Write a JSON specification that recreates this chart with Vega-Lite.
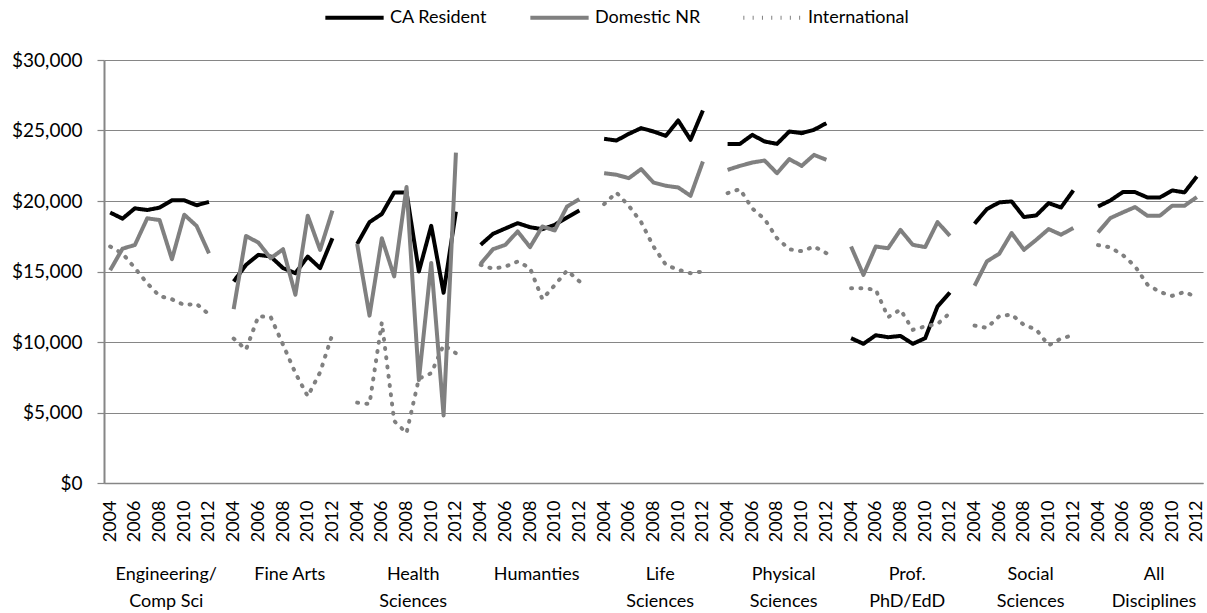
{
  "$schema": "https://vega.github.io/schema/vega-lite/v6.json",
  "width": 1099,
  "height": 423,
  "autosize": {"type": "none"},
  "padding": {"left": 104, "top": 60, "right": 4, "bottom": 130},
  "background": "white",
  "config": {
    "view": {"stroke": null},
    "font": "Lato",
    "axis": {"labelColor": "#000000", "titleColor": "#000000"},
    "legend": {"labelColor": "#000000"}
  },
  "data": {
    "values": [
      {"group": "Engineering/Comp Sci", "year": 2004, "CA Resident": 19180, "Domestic NR": 15090, "International": 16770},
      {"group": "Engineering/Comp Sci", "year": 2005, "CA Resident": 18750, "Domestic NR": 16620, "International": 16270},
      {"group": "Engineering/Comp Sci", "year": 2006, "CA Resident": 19480, "Domestic NR": 16880, "International": 15250},
      {"group": "Engineering/Comp Sci", "year": 2007, "CA Resident": 19360, "Domestic NR": 18770, "International": 14160},
      {"group": "Engineering/Comp Sci", "year": 2008, "CA Resident": 19530, "Domestic NR": 18650, "International": 13260},
      {"group": "Engineering/Comp Sci", "year": 2009, "CA Resident": 20050, "Domestic NR": 15870, "International": 13030},
      {"group": "Engineering/Comp Sci", "year": 2010, "CA Resident": 20050, "Domestic NR": 19030, "International": 12620},
      {"group": "Engineering/Comp Sci", "year": 2011, "CA Resident": 19700, "Domestic NR": 18230, "International": 12700},
      {"group": "Engineering/Comp Sci", "year": 2012, "CA Resident": 19930, "Domestic NR": 16290, "International": 11960},
      {"group": "Fine Arts", "year": 2004, "CA Resident": 14290, "Domestic NR": 12330, "International": 10240},
      {"group": "Fine Arts", "year": 2005, "CA Resident": 15470, "Domestic NR": 17520, "International": 9460},
      {"group": "Fine Arts", "year": 2006, "CA Resident": 16180, "Domestic NR": 17050, "International": 11820},
      {"group": "Fine Arts", "year": 2007, "CA Resident": 16060, "Domestic NR": 15940, "International": 11770},
      {"group": "Fine Arts", "year": 2008, "CA Resident": 15240, "Domestic NR": 16580, "International": 9810},
      {"group": "Fine Arts", "year": 2009, "CA Resident": 14880, "Domestic NR": 13350, "International": 7800},
      {"group": "Fine Arts", "year": 2010, "CA Resident": 16060, "Domestic NR": 18960, "International": 6150},
      {"group": "Fine Arts", "year": 2011, "CA Resident": 15240, "Domestic NR": 16530, "International": 7850},
      {"group": "Fine Arts", "year": 2012, "CA Resident": 17360, "Domestic NR": 19320, "International": 10570},
      {"group": "Health Sciences", "year": 2004, "CA Resident": 16950, "Domestic NR": 16950, "International": 5700},
      {"group": "Health Sciences", "year": 2005, "CA Resident": 18500, "Domestic NR": 11870, "International": 5600},
      {"group": "Health Sciences", "year": 2006, "CA Resident": 19080, "Domestic NR": 17360, "International": 11390},
      {"group": "Health Sciences", "year": 2007, "CA Resident": 20610, "Domestic NR": 14650, "International": 4400},
      {"group": "Health Sciences", "year": 2008, "CA Resident": 20610, "Domestic NR": 21000, "International": 3540},
      {"group": "Health Sciences", "year": 2009, "CA Resident": 15000, "Domestic NR": 7300, "International": 7400},
      {"group": "Health Sciences", "year": 2010, "CA Resident": 18240, "Domestic NR": 15610, "International": 7790},
      {"group": "Health Sciences", "year": 2011, "CA Resident": 13490, "Domestic NR": 4790, "International": 9790},
      {"group": "Health Sciences", "year": 2012, "CA Resident": 19250, "Domestic NR": 23430, "International": 9200},
      {"group": "Humanties", "year": 2004, "CA Resident": 16890, "Domestic NR": 15540, "International": 15470},
      {"group": "Humanties", "year": 2005, "CA Resident": 17670, "Domestic NR": 16580, "International": 15190},
      {"group": "Humanties", "year": 2006, "CA Resident": 18050, "Domestic NR": 16890, "International": 15350},
      {"group": "Humanties", "year": 2007, "CA Resident": 18430, "Domestic NR": 17840, "International": 15710},
      {"group": "Humanties", "year": 2008, "CA Resident": 18140, "Domestic NR": 16730, "International": 15240},
      {"group": "Humanties", "year": 2009, "CA Resident": 18000, "Domestic NR": 18190, "International": 13040},
      {"group": "Humanties", "year": 2010, "CA Resident": 18310, "Domestic NR": 17910, "International": 14030},
      {"group": "Humanties", "year": 2011, "CA Resident": 18830, "Domestic NR": 19610, "International": 15070},
      {"group": "Humanties", "year": 2012, "CA Resident": 19330, "Domestic NR": 20130, "International": 14300},
      {"group": "Life Sciences", "year": 2004, "CA Resident": 24410, "Domestic NR": 21970, "International": 19780},
      {"group": "Life Sciences", "year": 2005, "CA Resident": 24290, "Domestic NR": 21860, "International": 20600},
      {"group": "Life Sciences", "year": 2006, "CA Resident": 24760, "Domestic NR": 21620, "International": 19660},
      {"group": "Life Sciences", "year": 2007, "CA Resident": 25170, "Domestic NR": 22260, "International": 18500},
      {"group": "Life Sciences", "year": 2008, "CA Resident": 24930, "Domestic NR": 21310, "International": 16770},
      {"group": "Life Sciences", "year": 2009, "CA Resident": 24620, "Domestic NR": 21080, "International": 15470},
      {"group": "Life Sciences", "year": 2010, "CA Resident": 25710, "Domestic NR": 20960, "International": 15120},
      {"group": "Life Sciences", "year": 2011, "CA Resident": 24340, "Domestic NR": 20370, "International": 14880},
      {"group": "Life Sciences", "year": 2012, "CA Resident": 26420, "Domestic NR": 22800, "International": 15000},
      {"group": "Physical Sciences", "year": 2004, "CA Resident": 24050, "Domestic NR": 22210, "International": 20560},
      {"group": "Physical Sciences", "year": 2005, "CA Resident": 24050, "Domestic NR": 22490, "International": 20840},
      {"group": "Physical Sciences", "year": 2006, "CA Resident": 24690, "Domestic NR": 22730, "International": 19470},
      {"group": "Physical Sciences", "year": 2007, "CA Resident": 24220, "Domestic NR": 22870, "International": 18710},
      {"group": "Physical Sciences", "year": 2008, "CA Resident": 24050, "Domestic NR": 21970, "International": 17360},
      {"group": "Physical Sciences", "year": 2009, "CA Resident": 24930, "Domestic NR": 22970, "International": 16580},
      {"group": "Physical Sciences", "year": 2010, "CA Resident": 24810, "Domestic NR": 22490, "International": 16440},
      {"group": "Physical Sciences", "year": 2011, "CA Resident": 25050, "Domestic NR": 23270, "International": 16770},
      {"group": "Physical Sciences", "year": 2012, "CA Resident": 25520, "Domestic NR": 22920, "International": 16300},
      {"group": "Prof. PhD/EdD", "year": 2004, "CA Resident": 10270, "Domestic NR": 16770, "International": 13820},
      {"group": "Prof. PhD/EdD", "year": 2005, "CA Resident": 9870, "Domestic NR": 14760, "International": 13820},
      {"group": "Prof. PhD/EdD", "year": 2006, "CA Resident": 10480, "Domestic NR": 16770, "International": 13700},
      {"group": "Prof. PhD/EdD", "year": 2007, "CA Resident": 10340, "Domestic NR": 16650, "International": 11760},
      {"group": "Prof. PhD/EdD", "year": 2008, "CA Resident": 10430, "Domestic NR": 17950, "International": 12300},
      {"group": "Prof. PhD/EdD", "year": 2009, "CA Resident": 9870, "Domestic NR": 16890, "International": 10860},
      {"group": "Prof. PhD/EdD", "year": 2010, "CA Resident": 10270, "Domestic NR": 16730, "International": 11110},
      {"group": "Prof. PhD/EdD", "year": 2011, "CA Resident": 12520, "Domestic NR": 18500, "International": 11280},
      {"group": "Prof. PhD/EdD", "year": 2012, "CA Resident": 13510, "Domestic NR": 17530, "International": 12050},
      {"group": "Social Sciences", "year": 2004, "CA Resident": 18390, "Domestic NR": 13990, "International": 11160},
      {"group": "Social Sciences", "year": 2005, "CA Resident": 19430, "Domestic NR": 15720, "International": 11000},
      {"group": "Social Sciences", "year": 2006, "CA Resident": 19900, "Domestic NR": 16260, "International": 11830},
      {"group": "Social Sciences", "year": 2007, "CA Resident": 19970, "Domestic NR": 17730, "International": 11950},
      {"group": "Social Sciences", "year": 2008, "CA Resident": 18860, "Domestic NR": 16540, "International": 11210},
      {"group": "Social Sciences", "year": 2009, "CA Resident": 18980, "Domestic NR": 17250, "International": 10880},
      {"group": "Social Sciences", "year": 2010, "CA Resident": 19850, "Domestic NR": 18010, "International": 9770},
      {"group": "Social Sciences", "year": 2011, "CA Resident": 19540, "Domestic NR": 17610, "International": 10240},
      {"group": "Social Sciences", "year": 2012, "CA Resident": 20750, "Domestic NR": 18080, "International": 10500},
      {"group": "All Disciplines", "year": 2004, "CA Resident": 19610, "Domestic NR": 17770, "International": 16870},
      {"group": "All Disciplines", "year": 2005, "CA Resident": 20040, "Domestic NR": 18790, "International": 16710},
      {"group": "All Disciplines", "year": 2006, "CA Resident": 20630, "Domestic NR": 19190, "International": 16170},
      {"group": "All Disciplines", "year": 2007, "CA Resident": 20630, "Domestic NR": 19570, "International": 15370},
      {"group": "All Disciplines", "year": 2008, "CA Resident": 20250, "Domestic NR": 18950, "International": 14070},
      {"group": "All Disciplines", "year": 2009, "CA Resident": 20250, "Domestic NR": 18950, "International": 13550},
      {"group": "All Disciplines", "year": 2010, "CA Resident": 20750, "Domestic NR": 19660, "International": 13270},
      {"group": "All Disciplines", "year": 2011, "CA Resident": 20610, "Domestic NR": 19660, "International": 13550},
      {"group": "All Disciplines", "year": 2012, "CA Resident": 21740, "Domestic NR": 20280, "International": 13170}
    ]
  },
  "transform": [
    {"fold": ["CA Resident", "Domestic NR", "International"], "as": ["series", "value"]},
    {"calculate": "indexof(['Engineering/Comp Sci','Fine Arts','Health Sciences','Humanties','Life Sciences','Physical Sciences','Prof. PhD/EdD','Social Sciences','All Disciplines'], datum.group) * 10 + datum.year - 2004", "as": "pos"}
  ],
  "layer": [
    {
      "transform": [{"filter": "datum.series !== 'International'"}],
      "mark": {"type": "line", "strokeJoin": "round"},
      "encoding": {
        "x": {
          "field": "pos", "type": "quantitative",
          "scale": {"domain": [-0.5, 88.5], "nice": false, "zero": false},
          "axis": {
            "orient": "bottom",
            "values": [0,2,4,6,8,10,12,14,16,18,20,22,24,26,28,30,32,34,36,38,40,42,44,46,48,50,52,54,56,58,60,62,64,66,68,70,72,74,76,78,80,82,84,86,88],
            "labelExpr": "'' + (2004 + datum.value % 10)",
            "labelAngle": 270,
            "labelFontSize": 18,
            "labelPadding": 17,
            "ticks": false,
            "tickSize": 0,
            "domain": true,
            "domainColor": "#868686",
            "domainWidth": 1.5,
            "grid": false,
            "title": null,
            "labelOverlap": false,
            "labelFlush": false,
            "labelBound": false
          }
        },
        "y": {
          "field": "value", "type": "quantitative",
          "scale": {"domain": [0, 30000], "nice": false},
          "axis": {
            "values": [0, 5000, 10000, 15000, 20000, 25000, 30000],
            "format": "$,.0f",
            "title": null,
            "grid": true,
            "gridColor": "#868686",
            "gridWidth": 1.2,
            "domainColor": "#868686",
            "domainWidth": 2,
            "tickColor": "#868686",
            "tickSize": 7,
            "tickWidth": 1.2,
            "labelPadding": 15,
            "labelFontSize": 19
          }
        },
        "color": {
          "field": "series", "type": "nominal",
          "scale": {"domain": ["CA Resident", "Domestic NR", "International"], "range": ["#000000", "#808080", "#808080"]},
          "legend": {
            "orient": "none",
            "legendX": 219,
            "legendY": -74,
            "direction": "horizontal",
            "title": null,
            "symbolType": "stroke",
            "symbolSize": 3400,
            "labelFontSize": 18,
            "labelOffset": 4,
            "columnPadding": 34
          }
        },
        "strokeDash": {
          "field": "series", "type": "nominal",
          "scale": {"domain": ["CA Resident", "Domestic NR", "International"], "range": [[1, 0], [1, 0], [1, 8.3]]}
        },
        "strokeWidth": {
          "field": "series", "type": "nominal",
          "scale": {"domain": ["CA Resident", "Domestic NR", "International"], "range": [4, 4, 3.3]}
        },
        "detail": {"field": "group"}
      }
    },
    {
      "transform": [{"filter": "datum.series === 'International'"}],
      "mark": {"type": "line", "strokeCap": "round", "strokeJoin": "round"},
      "encoding": {
        "x": {
          "field": "pos", "type": "quantitative",
          "axis": {
            "orient": "bottom",
            "values": [4.5, 14.5, 24.5, 34.5, 44.5, 54.5, 64.5, 74.5, 84.5],
            "labelExpr": "[['Engineering/','Comp Sci'],['Fine Arts'],['Health','Sciences'],['Humanties'],['Life','Sciences'],['Physical','Sciences'],['Prof.','PhD/EdD'],['Social','Sciences'],['All','Disciplines']][floor(datum.value / 10)]",
            "labelAngle": 0,
            "labelAlign": "center",
            "labelBaseline": "top",
            "labelFontSize": 18,
            "labelLineHeight": 27,
            "labelPadding": 82,
            "ticks": false,
            "tickSize": 0,
            "domain": false,
            "grid": false,
            "title": null,
            "labelOverlap": false,
            "labelFlush": false,
            "labelBound": false
          }
        },
        "y": {"field": "value", "type": "quantitative"},
        "color": {"field": "series", "type": "nominal"},
        "strokeDash": {"field": "series", "type": "nominal"},
        "strokeWidth": {"field": "series", "type": "nominal"},
        "detail": {"field": "group"}
      }
    }
  ],
  "resolve": {"axis": {"x": "independent"}}
}
